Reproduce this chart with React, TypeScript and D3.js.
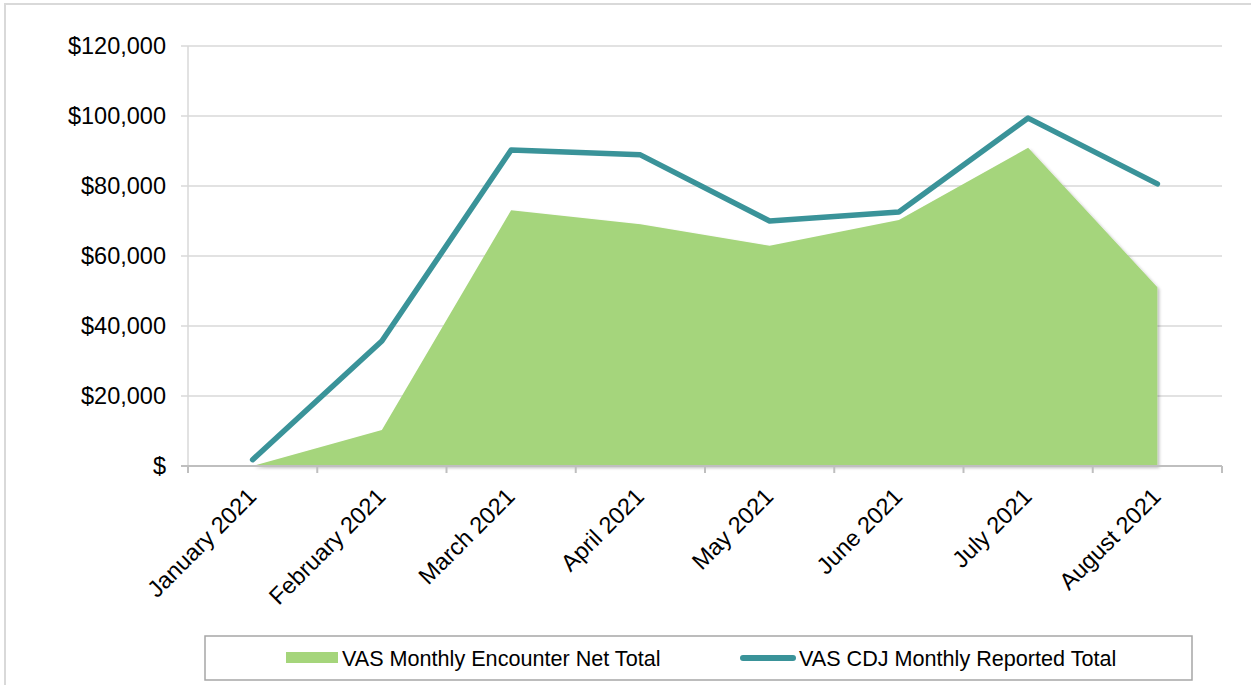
import React, { useEffect, useRef } from 'react';
import * as d3 from 'd3';

const months = ['January 2021', 'February 2021', 'March 2021', 'April 2021', 'May 2021', 'June 2021', 'July 2021', 'August 2021'];
const encounterNet = [0, 10300, 73100, 69100, 62900, 70300, 90900, 51100];
const cdjReported = [1800, 35700, 90300, 88900, 70000, 72600, 99400, 80600];
const yTicks = [0, 20000, 40000, 60000, 80000, 100000, 120000];
const legendLabels = ['VAS Monthly Encounter Net Total', 'VAS CDJ Monthly Reported Total'];

const W = 1251;
const H = 685;
const FONT = '"Liberation Sans", Arial, sans-serif';
const GREEN = '#a5d57b';
const TEAL = '#3a9399';

export default function App() {
  const svgRef = useRef<SVGSVGElement>(null);

  useEffect(() => {
    const svg = d3.select(svgRef.current);
    svg.selectAll('*').remove();

    const left = 188, right = 1222, top = 46, bottom = 466;

    const x = d3.scaleBand<string>().domain(months).range([left, right]);
    const y = d3.scaleLinear().domain([0, 120000]).range([bottom, top]);
    const cx = (m: string) => (x(m) as number) + x.bandwidth() / 2;

    // sombra del area
    const defs = svg.append('defs');
    defs.append('filter')
      .attr('id', 'shadow')
      .attr('x', '-5%').attr('y', '-5%').attr('width', '110%').attr('height', '110%')
      .append('feDropShadow')
      .attr('dx', 2).attr('dy', 2).attr('stdDeviation', 1.5)
      .attr('flood-color', '#000').attr('flood-opacity', 0.25);

    // marco exterior
    svg.append('rect')
      .attr('x', 5).attr('y', 4).attr('width', W + 20).attr('height', H + 20)
      .attr('fill', '#fff').attr('stroke', '#d9d9d9').attr('stroke-width', 2);

    // rejilla y etiquetas del eje y
    const yAxis = svg.append('g');
    yTicks.forEach(t => {
      if (t > 0) {
        yAxis.append('line')
          .attr('x1', left - 7).attr('x2', right)
          .attr('y1', y(t)).attr('y2', y(t))
          .attr('stroke', '#d9d9d9').attr('stroke-width', 1.5);
      }
      yAxis.append('text')
        .attr('x', 166).attr('y', y(t)).attr('dy', '0.36em')
        .attr('text-anchor', 'end')
        .attr('font-family', FONT).attr('font-size', 23.5).attr('fill', '#000')
        .text(t === 0 ? '$' : '$' + d3.format(',')(t));
    });
    yAxis.append('line')
      .attr('x1', left).attr('x2', left).attr('y1', top).attr('y2', bottom)
      .attr('stroke', '#d9d9d9').attr('stroke-width', 1.5);

    // area
    const area = d3.area<number>()
      .x((_, i) => cx(months[i]))
      .y0(y(0))
      .y1(d => y(d));
    svg.append('path')
      .datum(encounterNet)
      .attr('d', area)
      .attr('fill', GREEN)
      .attr('filter', 'url(#shadow)');

    // eje x
    const xAxis = svg.append('g');
    xAxis.append('line')
      .attr('x1', left - 7).attr('x2', right).attr('y1', bottom).attr('y2', bottom)
      .attr('stroke', '#bfbfbf').attr('stroke-width', 2);
    const bounds = months.map(m => x(m) as number).concat([right]);
    bounds.forEach(b => {
      xAxis.append('line')
        .attr('x1', b).attr('x2', b).attr('y1', bottom).attr('y2', bottom + 7)
        .attr('stroke', '#bfbfbf').attr('stroke-width', 2);
    });
    months.forEach(m => {
      xAxis.append('text')
        .attr('transform', `translate(${cx(m) + 5},${bottom + 32}) rotate(-45)`)
        .attr('text-anchor', 'end')
        .attr('font-family', FONT).attr('font-size', 23.5).attr('fill', '#000')
        .text(m);
    });

    // linea
    const line = d3.line<number>()
      .x((_, i) => cx(months[i]))
      .y(d => y(d));
    svg.append('path')
      .datum(cdjReported)
      .attr('d', line)
      .attr('fill', 'none')
      .attr('stroke', TEAL)
      .attr('stroke-width', 5.5)
      .attr('stroke-linecap', 'round')
      .attr('stroke-linejoin', 'round');

    // leyenda
    const lg = svg.append('g');
    lg.append('rect')
      .attr('x', 205).attr('y', 636).attr('width', 987).attr('height', 44)
      .attr('fill', '#fff').attr('stroke', '#a6a6a6').attr('stroke-width', 1.5);
    lg.append('rect')
      .attr('x', 286).attr('y', 652).attr('width', 52).attr('height', 11)
      .attr('fill', GREEN);
    lg.append('text')
      .attr('x', 342).attr('y', 658).attr('dy', '0.36em')
      .attr('font-family', FONT).attr('font-size', 21.6).attr('fill', '#000')
      .text(legendLabels[0]);
    lg.append('line')
      .attr('x1', 743).attr('x2', 793).attr('y1', 658).attr('y2', 658)
      .attr('stroke', TEAL).attr('stroke-width', 6).attr('stroke-linecap', 'round');
    lg.append('text')
      .attr('x', 799).attr('y', 658).attr('dy', '0.36em')
      .attr('font-family', FONT).attr('font-size', 21.6).attr('fill', '#000')
      .text(legendLabels[1]);
  }, []);

  return (
    <div style={{ position: 'fixed', left: 0, top: 0, width: W, height: H, overflow: 'hidden', background: '#fff' }}>
      <svg ref={svgRef} width={W} height={H} style={{ display: 'block' }} />
    </div>
  );
}
